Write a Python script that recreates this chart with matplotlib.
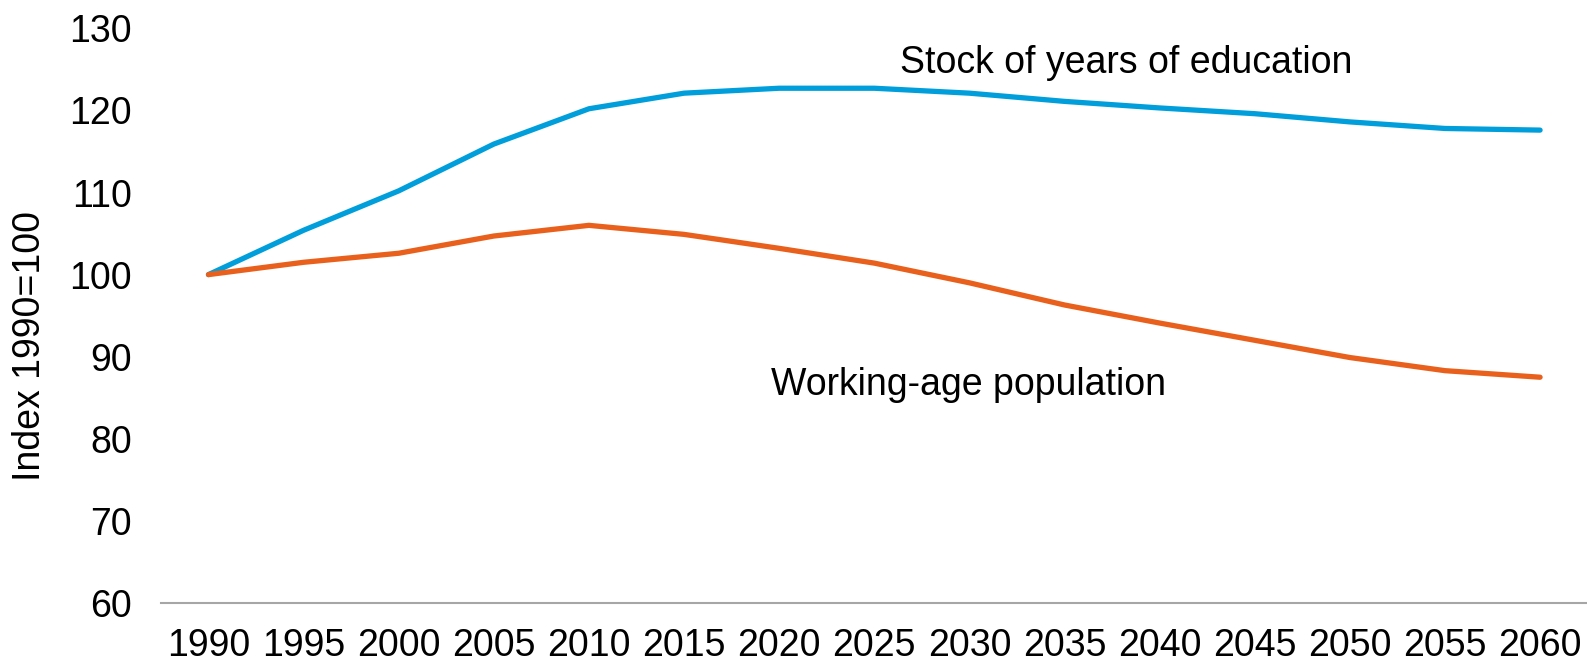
import matplotlib
matplotlib.use("Agg")
import matplotlib.pyplot as plt

plt.rcParams['font.family'] = ['Liberation Sans', 'DejaVu Sans']

years = ['1990', '1995', '2000', '2005', '2010', '2015', '2020', '2025',
         '2030', '2035', '2040', '2045', '2050', '2055', '2060']
education = [100, 105.4, 110.2, 115.9, 120.2, 122.1, 122.7, 122.7,
             122.1, 121.1, 120.3, 119.6, 118.6, 117.8, 117.6]
working_age = [100, 101.5, 102.6, 104.7, 106.0, 104.9, 103.2, 101.4,
               99.0, 96.3, 94.1, 92.0, 89.9, 88.3, 87.5]

fig = plt.figure(figsize=(15.87, 6.63), dpi=100)
ax = fig.add_axes([0.1014, 0.0905, 0.899, 0.8668])

x = range(len(years))
ax.plot(x, education, color='#009FDB', lw=3.8, solid_capstyle='round')
ax.plot(x, working_age, color='#E8601C', lw=3.8, solid_capstyle='round')

# inline series labels
ax.text(9.65, 125.8, 'Stock of years of education', fontsize=27,
        ha='center', va='center')
ax.text(7.99, 86.6, 'Working-age population', fontsize=27,
        ha='center', va='center')

ax.set_xlim(-0.5, len(years) - 0.5)
ax.set_ylim(60, 130)
ax.set_yticks(range(60, 131, 10))
ax.set_xticks(list(x))
ax.set_xticklabels(years)
ax.tick_params(axis='both', length=0, labelsize=27)
ax.tick_params(axis='x', pad=18)
ax.tick_params(axis='y', pad=21)
ax.set_ylabel('Index 1990=100', fontsize=27)
ax.yaxis.set_label_coords(-0.079, 0.447)

for side in ['top', 'right', 'left']:
    ax.spines[side].set_visible(False)
ax.spines['bottom'].set_color('#A6A6A6')
ax.spines['bottom'].set_linewidth(1.5)

fig.savefig('out.png', dpi=100)
